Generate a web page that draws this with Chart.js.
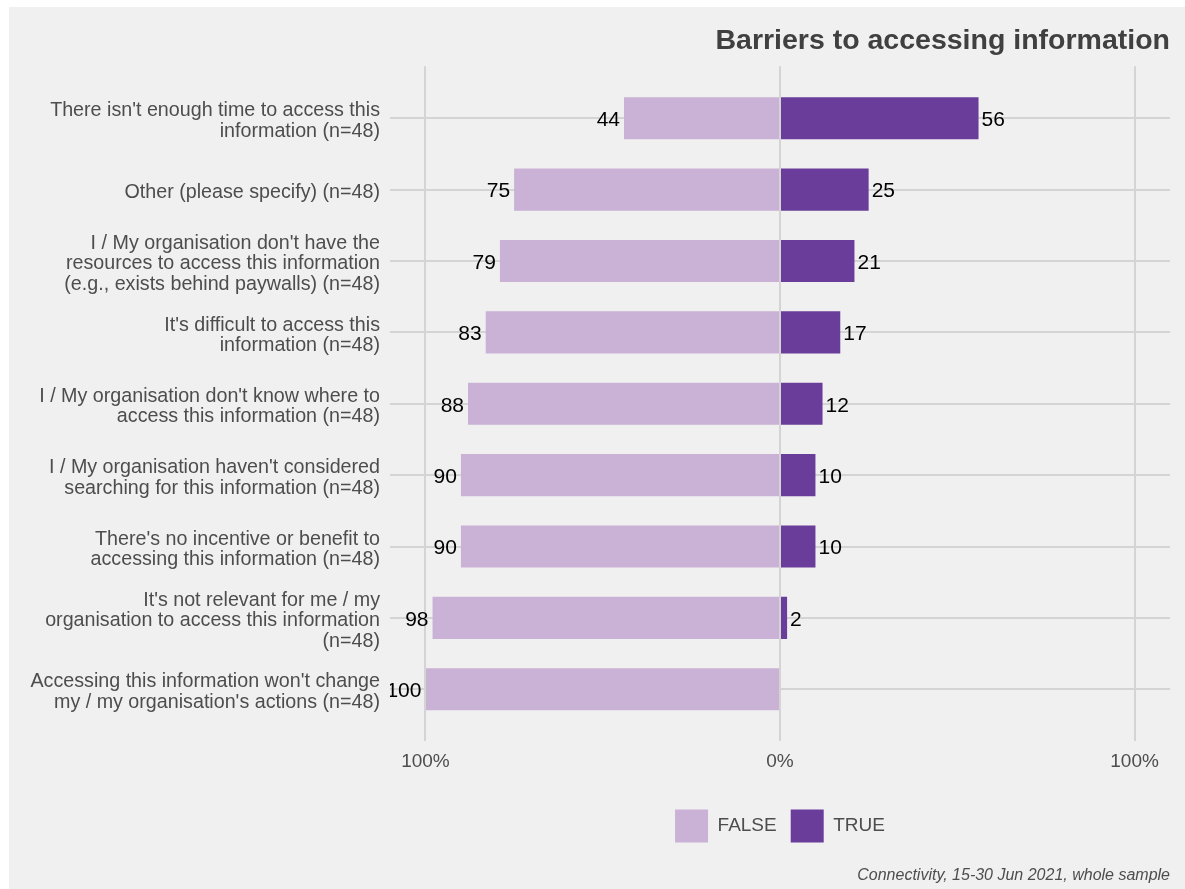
<!DOCTYPE html>
<html>
<head>
<meta charset="utf-8">
<script src="https://cdn.jsdelivr.net/npm/chart.js@4/dist/chart.umd.min.js"></script>
<style>
  html, body { margin: 0; padding: 0; background: #ffffff; }
  #wrap { position: absolute; left: 9px; top: 7px; width: 1176px; height: 882px; background: #f0f0f0; }
  canvas { display: block; }
</style>
</head>
<body>
<div id="wrap"><canvas id="c" width="1176" height="882"></canvas></div>
<script>
// ---- Data ----
const categories = [
  ["There isn't enough time to access this", "information (n=48)"],
  ["Other (please specify) (n=48)"],
  ["I / My organisation don't have the", "resources to access this information", "(e.g., exists behind paywalls) (n=48)"],
  ["It's difficult to access this", "information (n=48)"],
  ["I / My organisation don't know where to", "access this information (n=48)"],
  ["I / My organisation haven't considered", "searching for this information (n=48)"],
  ["There's no incentive or benefit to", "accessing this information (n=48)"],
  ["It's not relevant for me / my", "organisation to access this information", "(n=48)"],
  ["Accessing this information won't change", "my / my organisation's actions (n=48)"]
];
const seriesNames = ["FALSE", "TRUE"];
const falsePct = [44, 75, 79, 83, 88, 90, 90, 98, 100];
const truePct  = [56, 25, 21, 17, 12, 10, 10, 2, 0];
const xTickValues = [-100, 0, 100];
const titleText = "Barriers to accessing information";
const captionText = "Connectivity, 15-30 Jun 2021, whole sample";

const FONT = '"Liberation Sans", Arial, Helvetica, sans-serif';
const TEXT = '#4d4d4d';
const GRID = '#d4d4d4';

const valueLabels = {
  id: 'valueLabels',
  afterDraw(chart) {
    const ctx = chart.ctx, a = chart.chartArea;
    ctx.save();
    ctx.beginPath();
    ctx.rect(a.left, a.top, a.right - a.left, a.bottom - a.top);
    ctx.clip();
    ctx.font = '21px ' + FONT;
    ctx.fillStyle = '#000000';
    ctx.textBaseline = 'middle';
    chart.data.datasets.forEach((ds, di) => {
      const meta = chart.getDatasetMeta(di);
      meta.data.forEach((bar, i) => {
        const v = ds.data[i].x;
        if (v === 0) return;
        if (v < 0) {
          ctx.textAlign = 'right';
          ctx.fillText(String(-v), bar.x - 4, bar.y + 2);
        } else {
          ctx.textAlign = 'left';
          ctx.fillText(String(v), bar.x + 3, bar.y + 2);
        }
      });
    });
    ctx.restore();
  }
};

new Chart(document.getElementById('c'), {
  type: 'bar',
  data: {
    datasets: [
      {
        label: seriesNames[0],
        data: falsePct.map((v, i) => ({ x: -v, y: i })),
        backgroundColor: '#cab2d6',
        borderWidth: 0,
        stack: 's',
        barPercentage: 0.59,
        categoryPercentage: 1
      },
      {
        label: seriesNames[1],
        data: truePct.map((v, i) => ({ x: v, y: i })),
        backgroundColor: '#6a3d9a',
        borderWidth: 0,
        stack: 's',
        barPercentage: 0.59,
        categoryPercentage: 1
      }
    ]
  },
  options: {
    indexAxis: 'y',
    responsive: false,
    animation: false,
    devicePixelRatio: 1,
    layout: { padding: { left: 0, right: 15, top: 0, bottom: 0 } },
    scales: {
      x: {
        type: 'linear',
        stacked: true,
        min: -110,
        max: 110,
        offset: false,
        afterBuildTicks: (s) => { s.ticks = xTickValues.map(v => ({ value: v })); },
        afterFit: (s) => { s.height = 54; },
        grid: { color: GRID, lineWidth: 2, drawTicks: false, z: 1, offset: false },
        border: { display: false },
        ticks: {
          padding: 9,
          maxRotation: 0,
          color: TEXT,
          font: { family: FONT, size: 19 },
          callback: (v) => Math.abs(v) + '%'
        }
      },
      y: {
        type: 'linear',
        stacked: true,
        reverse: true,
        min: -0.73,
        max: 8.73,
        offset: false,
        afterBuildTicks: (s) => { s.ticks = categories.map((_, i) => ({ value: i })); },
        afterFit: (s) => { s.width = 381; },
        grid: { color: GRID, lineWidth: 2, drawTicks: false, offset: false },
        border: { display: false },
        ticks: {
          autoSkip: false,
          padding: 10,
          labelOffset: 3,
          color: TEXT,
          font: { family: FONT, size: 19.7, lineHeight: 1.04 },
          callback: (v) => categories[v]
        }
      }
    },
    plugins: {
      title: {
        display: true,
        text: titleText,
        align: 'end',
        color: '#404040',
        font: { family: FONT, size: 28.5, weight: 'bold' },
        padding: { top: 17, bottom: 8 }
      },
      subtitle: {
        display: true,
        text: captionText,
        position: 'bottom',
        align: 'end',
        color: TEXT,
        font: { family: FONT, size: 16, style: 'italic', weight: 'normal' },
        padding: { top: 13.4, bottom: 4 }
      },
      legend: {
        display: true,
        position: 'bottom',
        fullSize: false,
        align: 'center',
        labels: {
          boxWidth: 33,
          boxHeight: 33,
          padding: 14,
          color: TEXT,
          font: { family: FONT, size: 19 }
        }
      },
      tooltip: { enabled: false }
    }
  },
  plugins: [valueLabels]
});
</script>
</body>
</html>
